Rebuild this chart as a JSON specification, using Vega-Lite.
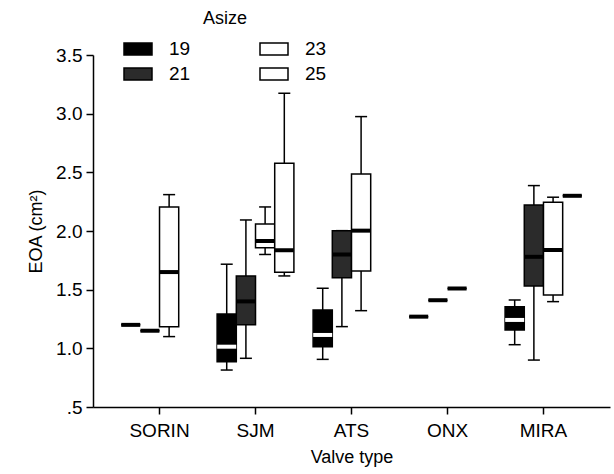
{
  "$schema": "https://vega.github.io/schema/vega-lite/v6.json",
  "width": 517,
  "height": 352,
  "autosize": {"type": "none"},
  "padding": {"left": 93, "top": 55, "right": 4, "bottom": 67},
  "config": {
    "view": {"stroke": null},
    "font": "Liberation Sans",
    "axis": {"domainColor": "black", "tickColor": "black", "labelColor": "black", "titleColor": "black", "grid": false, "labelFont": "Liberation Sans", "titleFont": "Liberation Sans", "labelFontSize": 19, "titleFontSize": 18, "titleFontWeight": "normal", "domainWidth": 1.5, "tickWidth": 1.5, "tickSize": 7},
    "legend": {"labelFont": "Liberation Sans", "titleFont": "Liberation Sans"}
  },
  "data": {
    "values": [
      {"valve": "SORIN", "size": "19", "lo": 1.2, "q1": 1.2, "med": 1.2, "q3": 1.2, "hi": 1.2},
      {"valve": "SORIN", "size": "21", "lo": 1.15, "q1": 1.15, "med": 1.15, "q3": 1.15, "hi": 1.15},
      {"valve": "SORIN", "size": "23", "lo": 1.1, "q1": 1.185, "med": 1.65, "q3": 2.205, "hi": 2.31},
      {"valve": "SJM", "size": "19", "lo": 0.815, "q1": 0.886, "med": 1.014, "q3": 1.293, "hi": 1.717},
      {"valve": "SJM", "size": "21", "lo": 0.915, "q1": 1.2, "med": 1.4, "q3": 1.617, "hi": 2.094},
      {"valve": "SJM", "size": "23", "lo": 1.8, "q1": 1.858, "med": 1.915, "q3": 2.06, "hi": 2.205},
      {"valve": "SJM", "size": "25", "lo": 1.617, "q1": 1.648, "med": 1.836, "q3": 2.578, "hi": 3.174},
      {"valve": "ATS", "size": "19", "lo": 0.906, "q1": 1.014, "med": 1.114, "q3": 1.327, "hi": 1.512},
      {"valve": "ATS", "size": "21", "lo": 1.185, "q1": 1.602, "med": 1.8, "q3": 2.003, "hi": 2.003},
      {"valve": "ATS", "size": "23", "lo": 1.321, "q1": 1.659, "med": 2.003, "q3": 2.486, "hi": 2.975},
      {"valve": "ONX", "size": "19", "lo": 1.27, "q1": 1.27, "med": 1.27, "q3": 1.27, "hi": 1.27},
      {"valve": "ONX", "size": "21", "lo": 1.41, "q1": 1.41, "med": 1.41, "q3": 1.41, "hi": 1.41},
      {"valve": "ONX", "size": "23", "lo": 1.51, "q1": 1.51, "med": 1.51, "q3": 1.51, "hi": 1.51},
      {"valve": "MIRA", "size": "19", "lo": 1.031, "q1": 1.156, "med": 1.242, "q3": 1.355, "hi": 1.412},
      {"valve": "MIRA", "size": "21", "lo": 0.9, "q1": 1.532, "med": 1.78, "q3": 2.222, "hi": 2.387},
      {"valve": "MIRA", "size": "23", "lo": 1.398, "q1": 1.455, "med": 1.838, "q3": 2.245, "hi": 2.288},
      {"valve": "MIRA", "size": "25", "lo": 2.3, "q1": 2.3, "med": 2.3, "q3": 2.3, "hi": 2.3}
    ]
  },
  "encoding": {
    "x": {"field": "valve", "type": "nominal", "sort": ["SORIN", "SJM", "ATS", "ONX", "MIRA"],
      "scale": {"paddingInner": 0.2, "paddingOuter": 0.293},
      "axis": {"title": "Valve type", "labelAngle": 0, "labelPadding": 7, "titlePadding": 8}},
    "xOffset": {"field": "size", "type": "nominal", "sort": ["19", "21", "23", "25"], "scale": {"paddingInner": 0, "paddingOuter": 0}}
  },
  "layer": [
    {
      "mark": {"type": "rule", "color": "black", "strokeWidth": 1.5},
      "encoding": {
        "y": {"field": "lo", "type": "quantitative", "scale": {"domain": [0.5, 3.5], "nice": false, "zero": false},
          "axis": {"title": "EOA (cm²)", "values": [0.5, 1, 1.5, 2, 2.5, 3, 3.5], "labelExpr": "datum.value == 0.5 ? '.5' : format(datum.value, '.1f')", "titlePadding": 10, "labelPadding": 4}},
        "y2": {"field": "hi"}
      }
    },
    {
      "mark": {"type": "tick", "color": "black", "thickness": 1.5, "size": 12, "opacity": 1},
      "encoding": {"y": {"field": "lo", "type": "quantitative"}}
    },
    {
      "mark": {"type": "tick", "color": "black", "thickness": 1.5, "size": 12, "opacity": 1},
      "encoding": {"y": {"field": "hi", "type": "quantitative"}}
    },
    {
      "mark": {"type": "bar", "stroke": "black", "strokeWidth": 1.5, "opacity": 1},
      "encoding": {
        "y": {"field": "q1", "type": "quantitative"},
        "y2": {"field": "q3"},
        "fill": {"field": "size", "type": "nominal",
          "scale": {"domain": ["19", "23", "21", "25"], "range": ["#000000", "#ffffff", "#2b2b2b", "#ffffff"]},
          "legend": {"title": "Asize", "orient": "none", "legendX": 30, "legendY": -45, "columns": 2, "direction": "horizontal",
            "titleAnchor": "middle", "titleFontSize": 18, "titleFontWeight": "normal", "titleColor": "black", "titlePadding": 6,
            "labelFontSize": 19, "labelColor": "black", "labelOffset": 16,
            "symbolType": "M-1,-0.43H1V0.43H-1Z", "symbolSize": 784, "symbolStrokeColor": "black", "symbolStrokeWidth": 1.5, "symbolOpacity": 1,
            "columnPadding": 66, "rowPadding": -4, "padding": 0}}
      }
    },
    {
      "mark": {"type": "tick", "thickness": 4, "size": 19, "opacity": 1},
      "encoding": {
        "y": {"field": "med", "type": "quantitative"},
        "color": {"condition": {"test": "datum.size == '19' && datum.q3 > datum.q1", "value": "white"}, "value": "black"}
      }
    }
  ]
}
